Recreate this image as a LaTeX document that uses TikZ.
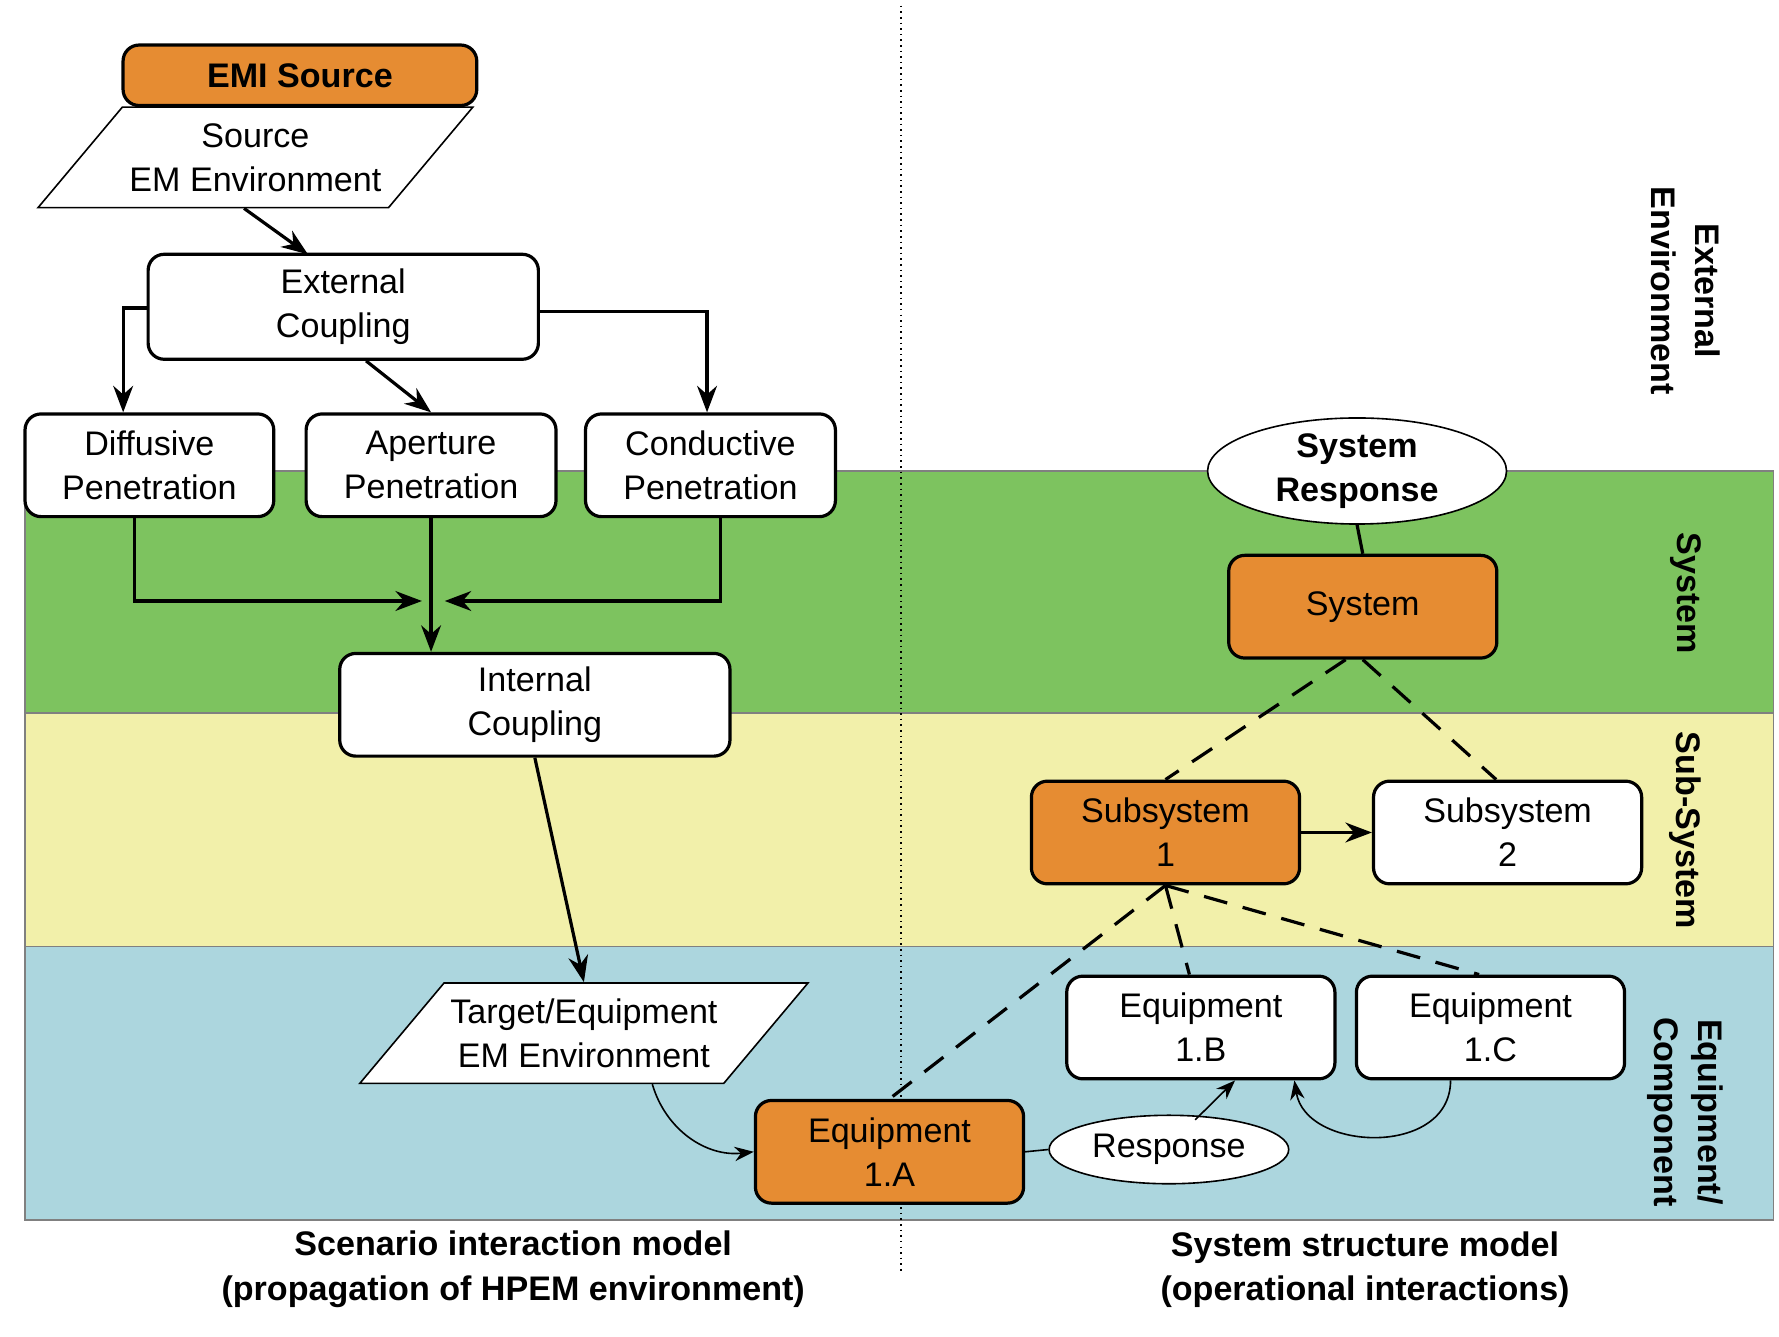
\documentclass[tikz,border=0pt]{standalone}
\usepackage{fontspec}
\setmainfont{Liberation Sans}
\usepackage{tikz}
\usetikzlibrary{positioning, arrows.meta, shapes.geometric}
\definecolor{orng}{RGB}{230,140,50}
\definecolor{bandg}{RGB}{125,195,95}
\definecolor{bandy}{RGB}{242,240,170}
\definecolor{bandb}{RGB}{172,214,222}

\begin{document}
\begin{tikzpicture}[x=0.01cm, y=-0.01cm,
       every node/.style={font=\fontsize{8.5}{11}\selectfont, align=center},
       box/.style={draw, thick, rounded corners=4pt, fill=white, minimum width=2.35cm, minimum height=0.9cm},
       obox/.style={box, fill=orng},
       para/.style={trapezium, trapezium left angle=50, trapezium right angle=130, draw, fill=white,
         minimum height=0.88cm, inner xsep=0pt},
       resp/.style={ellipse, draw, fill=white, inner sep=0pt},
       ->/.style={-Stealth, thick},
       dsh/.style={thick, dashed, dash pattern=on 6pt off 4pt}]
  \useasboundingbox (0,0) rectangle (1560,1172);
  % bands
  \fill[bandg] (22,413) rectangle (1555,625);
  \fill[bandy] (22,625) rectangle (1555,830);
  \fill[bandb] (22,830) rectangle (1555,1070);
  \draw[gray] (22,413) rectangle (1555,1070);
  \draw[gray] (22,625) -- (1555,625) (22,830) -- (1555,830);
  \draw[densely dotted] (790,5) -- (790,1115);
  % left side
  \node[obox, minimum width=3.1cm, minimum height=0.53cm, font=\fontsize{8.5}{11}\selectfont\bfseries] (emi) at (263,66) {EMI Source};
  \node[para, minimum width=3.1cm] (srcenv) at (224,138) {Source\\EM Environment};
  \node[box, minimum width=3.42cm, minimum height=0.92cm] (ext) at (301,269) {External\\Coupling};
  \node[box, minimum width=2.18cm] (dif) at (131,408) {Diffusive\\Penetration};
  \node[box, minimum width=2.19cm] (ape) at (378,408) {Aperture\\Penetration};
  \node[box, minimum width=2.19cm] (con) at (623,408) {Conductive\\Penetration};
  \node[box, minimum width=3.42cm] (int) at (469,618) {Internal\\Coupling};
  \node[para, minimum width=3.4cm] (tgt) at (512,906) {Target/Equipment\\EM Environment};
  \node[obox] (e1a) at (780,1010) {Equipment\\1.A};
  \coordinate (mid) at (380,527);
  \draw[->] (srcenv.south) ++(-10,0) -- (270,223);
  \draw[->] (ext.west |- 0,270) -| (dif.north -| 108,0);
  \draw[->] (ext.south) ++(20,0) -- (ape.north);
  \draw[->] (ext.east |- 0,273) -| (con.north -| 620,0);
  \draw[->] (dif.south -| 118,0) |- ([xshift=-0.1cm]mid);
  \draw[->] (con.south -| 632,0) |- ([xshift=0.1cm]mid);
  \draw[->] (ape.south) -- (int.north -| ape.south);
  \draw[->] (int.south) -- (tgt.north);
  \draw[-Stealth] (tgt.south) ++(60,0) to[bend right=40] (e1a.west);
  % right side
  \node[resp, minimum width=2.62cm, minimum height=0.9cm, font=\fontsize{8.5}{11}\selectfont\bfseries] (sresp) at (1190,413) {System\\Response};
  \node[obox] (sys) at (1195,532) {System};
  \node[obox] (sub1) at (1022,730) {Subsystem\\1};
  \node[box] (sub2) at (1322,730) {Subsystem\\2};
  \node[box] (e1b) at (1053,901) {Equipment\\1.B};
  \node[box] (e1c) at (1307,901) {Equipment\\1.C};
  \node[resp, minimum width=2.1cm, minimum height=0.6cm] (rsp) at (1025,1008) {Response};
  \draw[thick] (sresp.south) -- (sys.north);
  \draw[dsh] ([xshift=-0.15cm]sys.south) -- (sub1.north);
  \draw[dsh] (sys.south) -- ([xshift=-0.1cm]sub2.north);
  \draw[->] (sub1) -- (sub2);
  \draw[dsh] (sub1.south) -- (e1a.north);
  \draw[dsh] (sub1.south) -- ([xshift=-0.1cm]e1b.north);
  \draw[dsh] (sub1.south) -- ([xshift=-0.1cm]e1c.north);
  \draw (e1a.east) -- (rsp.west);
  \draw[-Stealth] (1048,982) -- ([xshift=0.3cm]e1b.south);
  \draw[-Stealth] ([xshift=-0.35cm]e1c.south) .. controls (1272,1015) and (1145,1010) .. ([xshift=0.82cm]e1b.south);
  % level labels
  \node[rotate=-90, font=\fontsize{8.5}{11}\selectfont\bfseries] (lext) at (1478,255) {External\\Environment};
  \node[rotate=-90, font=\fontsize{8.5}{11}\selectfont\bfseries] (lsys) at (1478,520) {System};
  \node[rotate=-90, font=\fontsize{8.5}{11}\selectfont\bfseries] (lsub) at (1478,728) {Sub-System};
  \node[rotate=-90, font=\fontsize{8.5}{11}\selectfont\bfseries] (leq) at (1478,975) {Equipment/\\Component};
  % captions
  \node[font=\fontsize{8.5}{11}\selectfont\bfseries] (capl) at (450,1113) {Scenario interaction model\\(propagation of HPEM environment)};
  \node[font=\fontsize{8.5}{11}\selectfont\bfseries] (capr) at (1197,1113) {System structure model\\(operational interactions)};
\end{tikzpicture}
\end{document}
